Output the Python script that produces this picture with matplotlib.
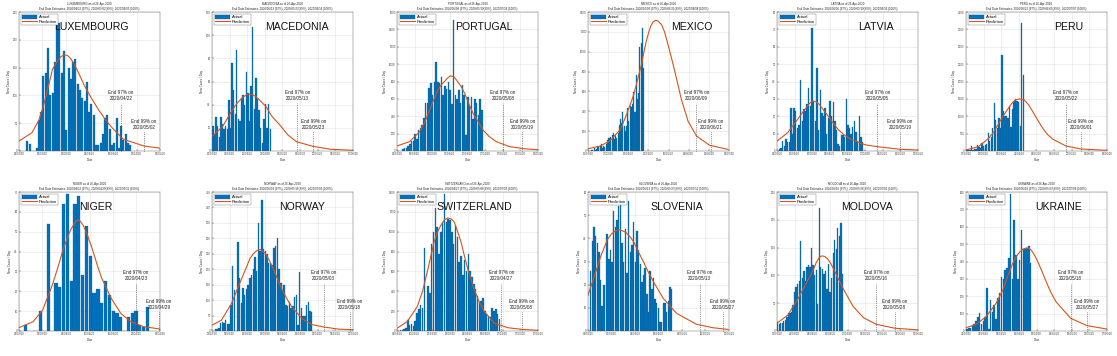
import numpy as np
import pandas as pd
import matplotlib
matplotlib.use("Agg")
import matplotlib.pyplot as plt

plt.rcParams['font.family'] = ['Liberation Sans', 'DejaVu Sans']

AS_OF = "26-Apr-2020"
BLUE = "#0072BD"
ORANGE = "#D95319"

# ---------------- data ----------------
countries = ["LUXEMBOURG", "MACEDONIA", "PORTUGAL", "MEXICO", "LATVIA", "PERU",
             "NIGER", "NORWAY", "SWITZERLAND", "SLOVENIA", "MOLDOVA", "UKRAINE"]

first_day = ["2020-03-12", "2020-03-21", "2020-03-12", "2020-03-14", "2020-03-06", "2020-03-18",
             "2020-03-25", "2020-03-01", "2020-03-02", "2020-03-08", "2020-03-13", "2020-03-22"]

end97 = ["2020/04/22", "2020/05/13", "2020/05/08", "2020/06/09", "2020/05/05", "2020/05/22",
         "2020/04/23", "2020/05/03", "2020/04/27", "2020/05/13", "2020/05/16", "2020/05/18"]
end99 = ["2020/05/02", "2020/05/23", "2020/05/19", "2020/06/21", "2020/05/19", "2020/06/01",
         "2020/04/29", "2020/05/18", "2020/05/08", "2020/05/27", "2020/05/28", "2020/05/27"]
end100 = ["2020/06/05", "2020/06/16", "2020/07/16", "2020/08/08", "2020/06/16", "2020/07/07",
          "2020/05/11", "2020/07/05", "2020/07/05", "2020/07/12", "2020/07/01", "2020/07/06"]

# daily new cases, one value per day from first_day
lux_cases = [18, 12, 0, 0, 5, 55, 70, 135, 140, 185, 100, 105, 160, 234, 230, 140, 180, 38,
             150, 130, 160, 165, 120, 110, 95, 90, 125, 70, 85, 65, 10, 10, 15, 30, 60, 65,
             40, 10, 15, 60, 5, 45, 20, 30, 15, 10]
mac_cases = [22, 15, 29, 22, 12, 29, 23, 19, 22, 19, 44, 20, 76, 53, 32, 87, 28, 26, 46, 48,
             40, 68, 50, 26, 56, 107, 36, 63, 45, 35, 20, 7, 28, 41, 20, 41, 19]
por_cases = [20, 30, 40, 60, 80, 110, 120, 190, 140, 240, 260, 300, 380, 550, 550, 720, 780,
             640, 790, 1030, 800, 780, 850, 640, 750, 710, 800, 700, 540, 1510, 640, 600, 700,
             550, 760, 650, 180, 620, 520, 620, 370, 600, 550, 420, 600, 470]
mex_cases = [15, 12, 29, 11, 25, 46, 39, 48, 70, 35, 51, 38, 70, 110, 131, 131, 145, 163, 178,
             125, 164, 126, 178, 261, 321, 285, 395, 256, 203, 254, 434, 302, 450, 448, 477,
             597, 396, 764, 526, 584, 1043, 1089, 1239, 835]
lat_cases = [1, 2, 6, 3, 7, 5, 5, 25, 10, 25, 23, 13, 15, 41, 17, 24, 23, 27, 36, 26, 71, 29,
             17, 48, 12, 35, 22, 20, 25, 10, 19, 29, 20, 28, 17, 12, 4, 3, 9, 9, 8, 30, 15, 13,
             10, 14, 17, 11, 6, 20, 8, 5]
per_cases = [40, 40, 30, 130, 30, 60, 60, 170, 120, 100, 240, 150, 180, 200, 520, 280, 400,
             650, 1380, 900, 650, 950, 670, 2770, 1150, 1000, 1000, 950, 1300, 700, 1200, 1450,
             1500, 1450, 1400, 720, 3680, 2200]
nig_cases = [3, 0, 0, 0, 10, 0, 54, 0, 24, 22, 64, 69, 25, 64, 68, 28, 53, 38, 19, 21, 14, 25,
             18, 10, 9, 7, 0, 7, 9, 10, 3, 2, 12]
nor_cases = [5, 8, 10, 25, 30, 25, 35, 22, 23, 85, 212, 132, 0, 287, 170, 90, 140, 115, 135,
             150, 170, 180, 200, 240, 195, 350, 260, 425, 265, 260, 250, 220, 220, 215, 270,
             275, 302, 200, 155, 130, 150, 85, 80, 95, 75, 80, 110, 115, 20, 192, 75, 48, 50,
             85, 95, 65, 60]
swi_cases = [5, 10, 15, 25, 30, 110, 60, 70, 55, 100, 180, 220, 260, 230, 840, 0, 450, 380,
             880, 1000, 1240, 1050, 780, 1000, 1100, 1380, 1100, 1130, 1120, 1000, 880, 1060,
             950, 700, 760, 560, 720, 600, 780, 600, 540, 470, 420, 350, 290, 300, 330, 200,
             170, 150, 140, 230, 200, 220, 170, 120]
slo_cases = [26, 39, 45, 41, 38, 34, 22, 11, 20, 0, 42, 31, 35, 30, 52, 45, 48, 54, 59, 38, 30,
             44, 25, 56, 34, 37, 47, 30, 43, 35, 29, 21, 24, 27, 16, 8, 26, 18, 23, 14, 12, 10,
             4, 4, 12, 12, 8, 13, 19, 18]
mol_cases = [16, 12, 14, 14, 18, 20, 25, 33, 33, 34, 47, 70, 80, 85, 90, 161, 95, 108, 90, 115,
             118, 115, 150, 118, 100, 110, 49, 222, 115, 112, 102, 108, 75, 120, 70, 95, 140,
             163, 148, 185, 170, 194, 103]
ukr_cases = [10, 15, 20, 30, 40, 60, 80, 105, 40, 60, 80, 245, 10, 180, 110, 150, 70, 190, 220,
             310, 300, 350, 360, 420, 790, 300, 640, 440, 300, 410, 580, 470, 470, 480, 490, 390]

# prediction curve: days after first_day, predicted new cases
lux_pred_day = [-4, 2, 5, 7, 9, 11, 13, 14.5, 16, 17.5, 19, 21, 23, 25, 28, 31, 34, 37, 42, 51, 58]
lux_pred = [17, 33, 55, 81, 113, 147, 161, 169, 173, 172, 166, 152, 135, 117, 95, 75, 57, 42,
            21, 9, 5]
mac_pred_day = [-1, 6, 12, 15, 18.5, 21, 23, 25, 27, 30, 33.5, 37, 42, 47, 52.5, 63, 74, 88]
mac_pred = [12, 21, 35, 41, 46, 48.5, 49, 48.5, 47, 43, 38, 30, 22.5, 14, 8, 4, 1.5, 0.6]
por_pred_day = [-3.3, 3.9, 9.6, 12.5, 15.3, 18, 20, 22, 23.8, 25.5, 27.1, 29, 30.5, 33, 35.2,
                37.5, 40, 45.7, 49, 53.2, 60.8, 69, 78]
por_pred = [58, 108, 223, 330, 473, 610, 704, 765, 800, 840, 865, 855, 819, 750, 665, 550, 435,
            242, 170, 108, 50, 27, 12]
mex_pred_day = [-3, 7, 15, 24, 29, 35, 41, 45, 47, 49, 51, 53, 55, 58, 60.5, 63, 66, 69, 74.5,
                80, 87, 98, 113]
mex_pred = [23, 50, 100, 218, 368, 569, 854, 1088, 1180, 1256, 1300, 1316, 1310, 1273, 1200,
            1088, 950, 804, 519, 301, 151, 57, 17]
lat_pred_day = [-1.5, 5, 11, 14, 16.5, 18.5, 20.5, 22.5, 24.5, 27, 30, 33, 36, 40, 44, 52.5,
                60, 74, 85]
lat_pred = [5.7, 10.5, 18, 22, 25, 27.5, 28.7, 28.3, 26.8, 23.5, 20, 16, 12.4, 9, 6.7, 3.6, 2.5,
            1, 0.6]
per_pred_day = [-0.6, 7.6, 14.3, 18, 21, 24, 26.5, 29.5, 32, 34.7, 37.6, 40.5, 43.2, 46.5, 49.8,
                53, 56.5, 65, 75, 92]
per_pred = [29, 125, 365, 570, 800, 1020, 1183, 1370, 1471, 1500, 1471, 1330, 1135, 890, 654,
            470, 337, 144, 58, 19]
nig_pred_day = [-1.7, 2, 4.5, 7, 8.5, 9.7, 11, 11.8, 12.8, 13.5, 14.3, 15.2, 16.3, 17.4, 18.7,
                19.9, 22.5, 25, 27.6, 31, 35.3]
nig_pred = [1.7, 4.7, 10.6, 23, 32, 40, 47, 50.8, 54, 55.8, 55.5, 53, 48, 42, 34, 27, 16.4, 8.9,
            4.7, 2.2, 1]
nor_pred_day = [-2, 3.5, 9.3, 15.2, 18, 20, 22, 24, 26, 28.8, 31, 33.7, 36, 38.5, 41.5, 44.4,
                50.2, 56, 63, 71.7, 80]
nor_pred = [19, 35, 89, 169, 206, 234, 250, 260, 264, 253, 232, 201, 170, 137, 105, 78, 41, 21,
            13, 6, 4]
swi_pred_day = [-0.9, 4.6, 10.1, 13, 15.6, 17.5, 19.3, 21, 23, 25, 26.6, 28.5, 30.3, 32, 34,
                35.8, 37.6, 41.3, 44, 46.8, 52.3, 59.6, 67, 76]
swi_pred = [27, 94, 244, 400, 596, 750, 897, 990, 1065, 1120, 1139, 1130, 1098, 1010, 897, 760,
            630, 412, 290, 194, 77, 33, 17, 7]
slo_pred_day = [-1.6, 2.4, 6.3, 10.3, 12.5, 14.3, 16, 17.3, 19, 21.2, 23.5, 26.2, 29, 32.1, 35,
                38.1, 44, 52, 64, 74, 83]
slo_pred = [15.4, 24, 32.6, 39.7, 41.8, 42.9, 43.5, 43.6, 43.3, 42.6, 41, 38.3, 34, 29.7, 25.3,
            21.1, 14, 7.6, 2.9, 1.4, 0.7]
mol_pred_day = [-0.4, 6.7, 13.4, 19, 21.5, 23.4, 25, 26.7, 28, 28.9, 30.5, 32.3, 34.5, 36.7, 39.5,
                42.3, 49, 55.6, 64, 76, 91]
mol_pred = [14, 29, 59, 88.5, 101, 112, 123, 131, 134.5, 135, 134, 130, 121, 109, 93, 77, 44,
            24, 12, 5, 2]
ukr_pred_day = [-0.5, 5, 10.5, 16, 19.7, 23.4, 25, 27, 29, 30.8, 32.6, 34, 35.4, 37, 39, 41,
                43.6, 46, 49, 57, 66, 77]
ukr_pred = [19, 38, 82, 159, 235, 341, 385, 427, 455, 471, 478, 476, 465, 440, 398, 350, 283,
            225, 168, 73, 31, 11]

cases = [lux_cases, mac_cases, por_cases, mex_cases, lat_cases, per_cases,
         nig_cases, nor_cases, swi_cases, slo_cases, mol_cases, ukr_cases]
pred_day = [lux_pred_day, mac_pred_day, por_pred_day, mex_pred_day, lat_pred_day, per_pred_day,
            nig_pred_day, nor_pred_day, swi_pred_day, slo_pred_day, mol_pred_day, ukr_pred_day]
pred = [lux_pred, mac_pred, por_pred, mex_pred, lat_pred, per_pred,
        nig_pred, nor_pred, swi_pred, slo_pred, mol_pred, ukr_pred]

# ---------------- layout ----------------
x_limits = [("2020-03-08 08:00", "2020-05-09"), ("2020-03-20 10:00", "2020-06-17"),
            ("2020-03-08 17:00", "2020-05-28"), ("2020-03-11", "2020-07-06"),
            ("2020-03-04 12:00", "2020-05-30"), ("2020-03-17 10:00", "2020-06-18"),
            ("2020-03-23 07:00", "2020-04-29 07:00"), ("2020-02-28", "2020-05-20"),
            ("2020-03-01 02:00", "2020-05-17"), ("2020-03-06 10:00", "2020-05-30 16:00"),
            ("2020-03-12 14:00", "2020-06-12"), ("2020-03-21 12:00", "2020-06-07")]
y_max = [250, 120, 1600, 1400, 80, 4000, 70, 450, 1400, 60, 250, 800]
y_step = [50, 20, 200, 200, 10, 500, 10, 50, 200, 10, 50, 100]
n_xticks = [7, 9, 9, 8, 9, 9, 7, 9, 9, 7, 9, 9]
name_right = [0.78, 0.83, 0.82, 0.88, 0.83, 0.83, 0.66, 0.80, 0.82, 0.82, 0.82, 0.82]

W, H = 1117, 356
lefts = [19, 212, 397, 588, 777, 966]
tops = [12, 192]
ax_w, ax_h = 141, 139

fig = plt.figure(figsize=(W / 100, H / 100), dpi=100)

for i, name in enumerate(countries):
    row, col = divmod(i, 6)
    ax = fig.add_axes([lefts[col] / W, 1 - (tops[row] + ax_h) / H, ax_w / W, ax_h / H])
    ax.set_axisbelow(True)

    start = pd.Timestamp(first_day[i])
    days = start + pd.to_timedelta(np.arange(len(cases[i])), unit="D")
    bars = ax.bar(days, cases[i], width=0.85, color=BLUE, edgecolor="#155a8a", linewidth=0.2)
    pdays = start + pd.to_timedelta(np.array(pred_day[i]) * 24, unit="h")
    line, = ax.plot(pdays, pred[i], color=ORANGE, lw=0.8)

    x0, x1 = pd.Timestamp(x_limits[i][0]), pd.Timestamp(x_limits[i][1])
    ax.set_xlim(x0, x1)
    ax.set_ylim(0, y_max[i])
    ax.set_yticks(np.arange(0, y_max[i] + 1, y_step[i]))
    ticks = pd.to_datetime(np.linspace(x0.value, x1.value, n_xticks[i]))
    ax.set_xticks(ticks)
    ax.set_xticklabels([t.strftime("%d/%m/%y") for t in ticks])
    ax.tick_params(labelsize=2, length=1.2, width=0.3, pad=1, direction="in",
                   colors="#404040")
    ax.grid(True, color="#e3e3e3", lw=0.4)
    for s in ax.spines.values():
        s.set_linewidth(0.3)
        s.set_color("#555555")

    ax.set_xlabel("Date", fontsize=2.2, labelpad=1, color="#333333")
    ax.set_ylabel("New Cases / Day", fontsize=2.2, labelpad=1.5, color="#333333")
    ax.set_title(f"{name} as of {AS_OF}\nEnd Date Estimates: {end97[i]} (97%), "
                 f"{end99[i]}(99%), {end100[i]} (100%)",
                 fontsize=2.1, pad=1.5, linespacing=1.4, color="#222222")

    ax.text(name_right[i], 0.89, name, transform=ax.transAxes, ha="right", va="center",
            fontsize=7.6, color="#111111")

    for date, frac, label in [(end97[i], 0.345, "97%"), (end99[i], 0.14, "99%")]:
        d = pd.Timestamp(date.replace("/", "-"))
        ax.plot([d, d], [0, frac * y_max[i]], ls=":", color="#333333", lw=0.5,
                clip_on=False)
        ax.text(d, (frac + 0.012) * y_max[i], f"End {label} on\n{date}", ha="center",
                va="bottom", fontsize=3.3, linespacing=1.3, color="#222222",
                clip_on=False)

    leg = ax.legend([bars, line], ["Actual", "Prediction"], loc="upper left", fontsize=3.0,
                    handlelength=3.6, handleheight=1.0, borderpad=0.3, labelspacing=0.15,
                    handletextpad=0.4, borderaxespad=0.4, frameon=True, fancybox=False,
                    edgecolor="#777777", framealpha=1)
    leg.get_frame().set_linewidth(0.3)

fig.savefig("out.png", dpi=100)
